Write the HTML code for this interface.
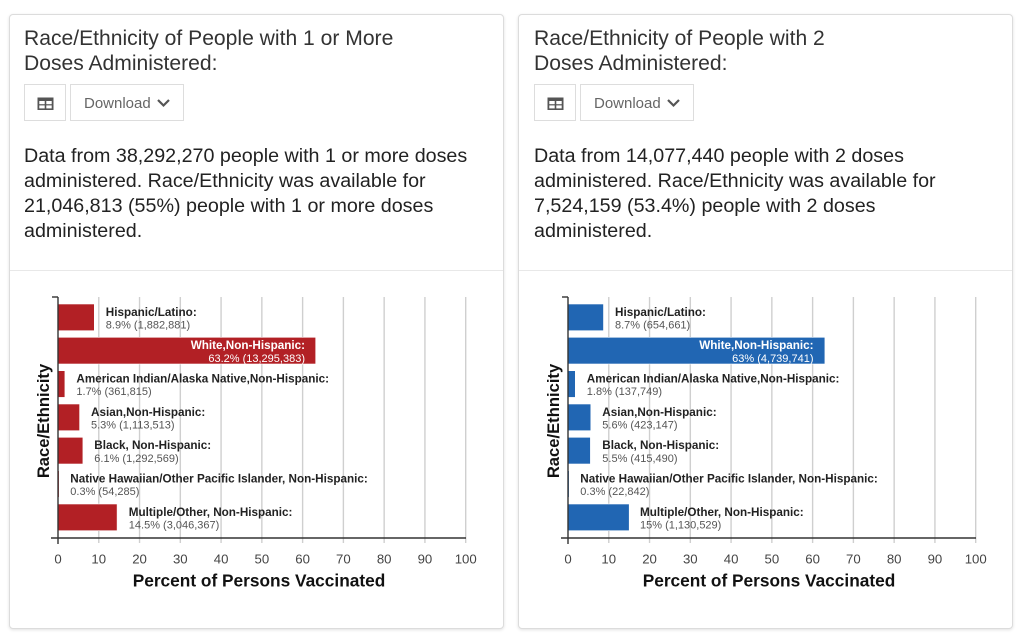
<!DOCTYPE html>
<html><head><meta charset="utf-8">
<style>
html,body{margin:0;padding:0;background:#fff;}
body{width:1023px;height:636px;position:relative;overflow:hidden;font-family:"Liberation Sans",Arial,sans-serif;}
.card{position:absolute;top:14px;width:493px;height:613px;border:1px solid #dcdcdc;border-radius:4px;box-shadow:0 1px 3px rgba(0,0,0,.12);background:#fff;}
.title{position:absolute;font-size:21.1px;line-height:25px;color:#333;white-space:nowrap;}
.para{position:absolute;font-size:19.7px;line-height:25px;color:#222;white-space:nowrap;}
.btn{position:absolute;border:1px solid #ddd;box-sizing:border-box;height:37px;top:84px;background:#fff;}
.dl{font-size:15px;color:#666;line-height:37px;padding-left:13px;}
.div{position:absolute;height:1px;background:#e8e8e8;top:270px;}
svg{position:absolute;left:0;top:0;}
</style></head><body>
<div class="card" style="left:9px;"></div>
<div class="card" style="left:518px;"></div>
<div class="div" style="left:10px;width:493px;"></div>
<div class="div" style="left:519px;width:493px;"></div>

<div class="title" style="left:24px;top:26px;">Race/Ethnicity of People with 1 or More<br>Doses Administered:</div>
<div class="title" style="left:534px;top:26px;">Race/Ethnicity of People with 2<br>Doses Administered:</div>

<div class="btn" style="left:24px;width:42px;"></div>
<div class="btn dl" style="left:70px;width:114px;">Download</div>
<div class="btn" style="left:534px;width:42px;"></div>
<div class="btn dl" style="left:580px;width:114px;">Download</div>

<div class="para" style="left:24px;top:144px;">Data from 38,292,270 people with 1 or more doses<br>administered. Race/Ethnicity was available for<br>21,046,813 (55%) people with 1 or more doses<br>administered.</div>
<div class="para" style="left:534px;top:144px;">Data from 14,077,440 people with 2 doses<br>administered. Race/Ethnicity was available for<br>7,524,159 (53.4%) people with 2 doses<br>administered.</div>

<svg width="1023" height="636" viewBox="0 0 1023 636" xmlns="http://www.w3.org/2000/svg">
<defs>
<g id="icons">
  <rect x="37.5" y="97.5" width="16" height="12.5" fill="#555"/>
  <rect x="39.3" y="101" width="5.4" height="3.2" fill="#fff"/>
  <rect x="46.3" y="101" width="5.4" height="3.2" fill="#fff"/>
  <rect x="39.3" y="105.4" width="5.4" height="3" fill="#fff"/>
  <rect x="46.3" y="105.4" width="5.4" height="3" fill="#fff"/>
  <polyline points="158,100 163.5,105.5 169,100" fill="none" stroke="#555" stroke-width="2.2"/>
</g>
<g id="axes">
  <g stroke="#cfcfcf" stroke-width="1.4">
    <line x1="98.77" y1="297" x2="98.77" y2="543"/>
    <line x1="139.54" y1="297" x2="139.54" y2="543"/>
    <line x1="180.31" y1="297" x2="180.31" y2="543"/>
    <line x1="221.08" y1="297" x2="221.08" y2="543"/>
    <line x1="261.85" y1="297" x2="261.85" y2="543"/>
    <line x1="302.62" y1="297" x2="302.62" y2="543"/>
    <line x1="343.39" y1="297" x2="343.39" y2="543"/>
    <line x1="384.16" y1="297" x2="384.16" y2="543"/>
    <line x1="424.93" y1="297" x2="424.93" y2="543"/>
    <line x1="465.7" y1="297" x2="465.7" y2="543"/>
  </g>
  <g font-size="13.2" fill="#444" text-anchor="middle">
    <text x="58" y="563.5">0</text>
    <text x="98.77" y="563.5">10</text>
    <text x="139.54" y="563.5">20</text>
    <text x="180.31" y="563.5">30</text>
    <text x="221.08" y="563.5">40</text>
    <text x="261.85" y="563.5">50</text>
    <text x="302.62" y="563.5">60</text>
    <text x="343.39" y="563.5">70</text>
    <text x="384.16" y="563.5">80</text>
    <text x="424.93" y="563.5">90</text>
    <text x="465.7" y="563.5">100</text>
  </g>
  <text x="259" y="586.5" font-size="17.3" font-weight="bold" fill="#111" text-anchor="middle">Percent of Persons Vaccinated</text>
  <text transform="translate(49,421) rotate(-90)" font-size="16.6" font-weight="bold" fill="#111" text-anchor="middle">Race/Ethnicity</text>
</g>
<g id="axislines">
  <line x1="58" y1="297" x2="58" y2="544" stroke="#333" stroke-width="1.4"/>
  <line x1="52" y1="297" x2="58" y2="297" stroke="#333" stroke-width="1.4"/>
  <line x1="51" y1="538" x2="466" y2="538" stroke="#333" stroke-width="1.4"/>
</g>
</defs>

<!-- LEFT CHART -->
<use href="#icons"/>
<use href="#axes"/>
<g fill="#b22025" stroke="#fff" stroke-width="0.6">
  <rect x="58" y="304" width="36.3" height="26.7"/>
  <rect x="58" y="337.3" width="257.7" height="26.7"/>
  <rect x="58" y="370.7" width="6.9" height="26.7"/>
  <rect x="58" y="404" width="21.6" height="26.7"/>
  <rect x="58" y="437.3" width="24.9" height="26.7"/>
  <rect x="58" y="470.7" width="1.2" height="26.7"/>
  <rect x="58" y="504" width="59.1" height="26.7"/>
</g>
<use href="#axislines"/>
<g font-size="11">
  <g font-size="11.7" font-weight="bold" fill="#222">
  <text x="105.8" y="316.2">Hispanic/Latino:</text>
  <text x="305" y="349.2" fill="#fff" text-anchor="end">White,Non-Hispanic:</text>
  <text x="76.4" y="382.6">American Indian/Alaska Native,Non-Hispanic:</text>
  <text x="91" y="415.9">Asian,Non-Hispanic:</text>
  <text x="94.3" y="449.2">Black, Non-Hispanic:</text>
  <text x="70.3" y="482.6">Native Hawaiian/Other Pacific Islander, Non-Hispanic:</text>
  <text x="128.8" y="515.9">Multiple/Other, Non-Hispanic:</text>
  </g>
  <text x="105.8" y="328.7" fill="#555">8.9% (1,882,881)</text>
  <text x="305" y="362.2" fill="#fff" text-anchor="end">63.2% (13,295,383)</text>
  <text x="76.4" y="395.2" fill="#555">1.7% (361,815)</text>
  <text x="91" y="428.5" fill="#555">5.3% (1,113,513)</text>
  <text x="94.3" y="461.8" fill="#555">6.1% (1,292,569)</text>
  <text x="70.3" y="495.2" fill="#555">0.3% (54,285)</text>
  <text x="128.8" y="528.5" fill="#555">14.5% (3,046,367)</text>
</g>

<!-- RIGHT CHART -->
<g transform="translate(510,0)">
<use href="#icons"/>
<use href="#axes"/>
<g fill="#2166b3" stroke="#fff" stroke-width="0.6">
  <rect x="58" y="304" width="35.5" height="26.7"/>
  <rect x="58" y="337.3" width="256.9" height="26.7"/>
  <rect x="58" y="370.7" width="7.3" height="26.7"/>
  <rect x="58" y="404" width="22.8" height="26.7"/>
  <rect x="58" y="437.3" width="22.4" height="26.7"/>
  <rect x="58" y="470.7" width="1.2" height="26.7"/>
  <rect x="58" y="504" width="61.2" height="26.7"/>
</g>
<use href="#axislines"/>
<g font-size="11">
  <g font-size="11.7" font-weight="bold" fill="#222">
  <text x="105" y="316.2">Hispanic/Latino:</text>
  <text x="303.5" y="349.2" fill="#fff" text-anchor="end">White,Non-Hispanic:</text>
  <text x="76.8" y="382.6">American Indian/Alaska Native,Non-Hispanic:</text>
  <text x="92.3" y="415.9">Asian,Non-Hispanic:</text>
  <text x="92.3" y="449.2">Black, Non-Hispanic:</text>
  <text x="70.3" y="482.6">Native Hawaiian/Other Pacific Islander, Non-Hispanic:</text>
  <text x="130" y="515.9">Multiple/Other, Non-Hispanic:</text>
  </g>
  <text x="105" y="328.7" fill="#555">8.7% (654,661)</text>
  <text x="303.5" y="362.2" fill="#fff" text-anchor="end">63% (4,739,741)</text>
  <text x="76.8" y="395.2" fill="#555">1.8% (137,749)</text>
  <text x="92.3" y="428.5" fill="#555">5.6% (423,147)</text>
  <text x="92.3" y="461.8" fill="#555">5.5% (415,490)</text>
  <text x="70.3" y="495.2" fill="#555">0.3% (22,842)</text>
  <text x="130" y="528.5" fill="#555">15% (1,130,529)</text>
</g>
</g>
</svg>
</body></html>
